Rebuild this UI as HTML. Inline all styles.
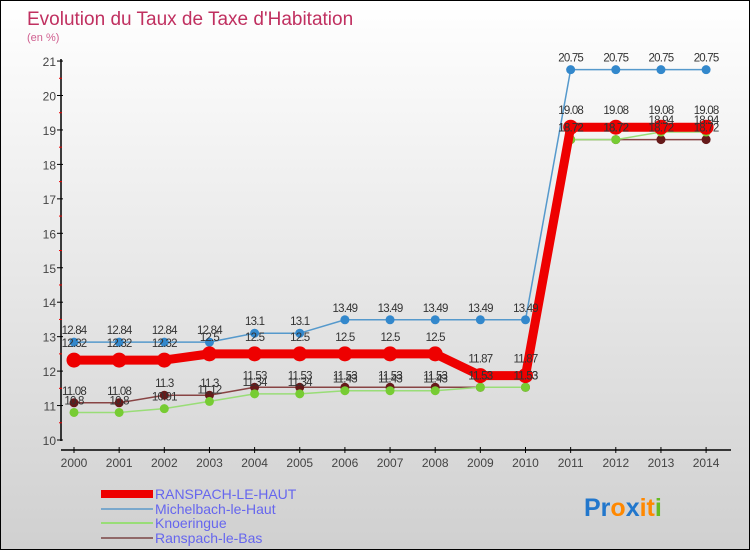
<!DOCTYPE html>
<html><head><meta charset="utf-8"><style>
body{margin:0;width:750px;height:550px;overflow:hidden;font-family:"Liberation Sans",sans-serif}
#wrap{position:relative;width:748px;height:548px;border:1px solid #000;background:linear-gradient(#ffffff,#d0d0d0)}
text{font-family:"Liberation Sans",sans-serif}
</style></head><body>
<div id="wrap">
<svg id="chart" width="748" height="548">
<text x="26" y="24" font-size="19" fill="#c03060">Evolution du Taux de Taxe d'Habitation</text>
<text x="26" y="40" font-size="11" fill="#d06090">(en %)</text>
<g id="axes"></g><g id="series"></g><g id="labels"></g>
<g>
<rect x="100" y="489" width="52" height="8" fill="#e00"/>
<text x="154" y="498" font-size="14" fill="#6666ee">RANSPACH-LE-HAUT</text>
<rect x="100" y="507" width="52" height="2" fill="#7aa8cc"/>
<text x="154" y="513" font-size="14" fill="#6666ee">Michelbach-le-Haut</text>
<rect x="100" y="521" width="52" height="2" fill="#99dd77"/>
<text x="154" y="527" font-size="14" fill="#6666ee">Knoeringue</text>
<rect x="100" y="536" width="52" height="2" fill="#906868"/>
<text x="154" y="542" font-size="14" fill="#6666ee">Ranspach-le-Bas</text>
</g>
<text x="583" y="515" font-size="25" font-weight="bold"><tspan fill="#2277cc">Pr</tspan><tspan fill="#ff8800">o</tspan><tspan fill="#2277cc">x</tspan><tspan fill="#ff8800">it</tspan><tspan fill="#66bb22">i</tspan></text>
</svg></div>
<script>
const years=[2000,2001,2002,2003,2004,2005,2006,2007,2008,2009,2010,2011,2012,2013,2014];
const yTicks=[10,11,12,13,14,15,16,17,18,19,20,21];
const red=[12.32,12.32,12.32,12.5,12.5,12.5,12.5,12.5,12.5,11.87,11.87,19.08,19.08,19.08,19.08];
const blue=[12.84,12.84,12.84,12.84,13.1,13.1,13.49,13.49,13.49,13.49,13.49,20.75,20.75,20.75,20.75];
const green=[10.8,10.8,10.91,11.12,11.34,11.34,11.43,11.43,11.43,11.53,11.53,18.72,18.72,18.94,18.94];
const brown=[11.08,11.08,11.3,11.3,11.53,11.53,11.53,11.53,11.53,11.53,11.53,18.72,18.72,18.72,18.72];
const NS="http://www.w3.org/2000/svg";
const X=i=>73+i*45.15, Y=v=>439-(v-10)*34.45;
function mk(tag,attrs,parent){const e=document.createElementNS(NS,tag);for(const k in attrs)e.setAttribute(k,attrs[k]);parent.appendChild(e);return e;}
const ax=document.getElementById('axes');
let e=mk('line',{x1:60,y1:58,x2:60,y2:440,stroke:'#000','stroke-width':1.5},ax);

e=mk('line',{x1:60,y1:449,x2:730,y2:449,stroke:'#000','stroke-width':1.5},ax);

yTicks.forEach(v=>{mk('line',{x1:56,y1:Y(v),x2:62,y2:Y(v),stroke:'#000'},ax);
 if(v<21)mk('line',{x1:58,y1:Y(v+0.5),x2:61,y2:Y(v+0.5),stroke:'#e00'},ax);
 const t=mk('text',{x:55,y:Y(v)+5,'font-size':12,'text-anchor':'end',fill:'#444'},ax);t.textContent=v;
 });
years.forEach((yr,i)=>{mk('line',{x1:X(i),y1:446,x2:X(i),y2:452,stroke:'#000'},ax);
 const t=mk('text',{x:X(i),y:466,'font-size':12,'text-anchor':'middle',fill:'#444'},ax);t.textContent=yr;
 });
const sg=document.getElementById('series'),lg=document.getElementById('labels');
function series(vals,col,dot,w,r,name,above){
 const p=mk('polyline',{points:vals.map((v,i)=>X(i)+','+Y(v)).join(' '),fill:'none',stroke:col,'stroke-width':w,'stroke-linejoin':'round'},sg);
 
 vals.forEach((v,i)=>{const c=mk('circle',{cx:X(i),cy:Y(v),r:r,fill:dot},sg);
  
  const t=mk('text',{x:X(i),y:Y(v)-above,'font-size':11.5,'text-anchor':'middle',fill:'#333','letter-spacing':'-0.8'},lg);t.textContent=v;
  });
}
series(brown,'#884444','#661a1a',1.5,4.5,'ranspach-le-bas',8);
series(green,'#99dd77','#77cc33',1.5,4.5,'knoeringue',8);
series(blue,'#5599cc','#3388cc',1.5,4.5,'michelbach-le-haut',8);
series(red,'#ee0000','#ee0000',9,7.5,'ranspach-le-haut',13);
</script></body></html>
